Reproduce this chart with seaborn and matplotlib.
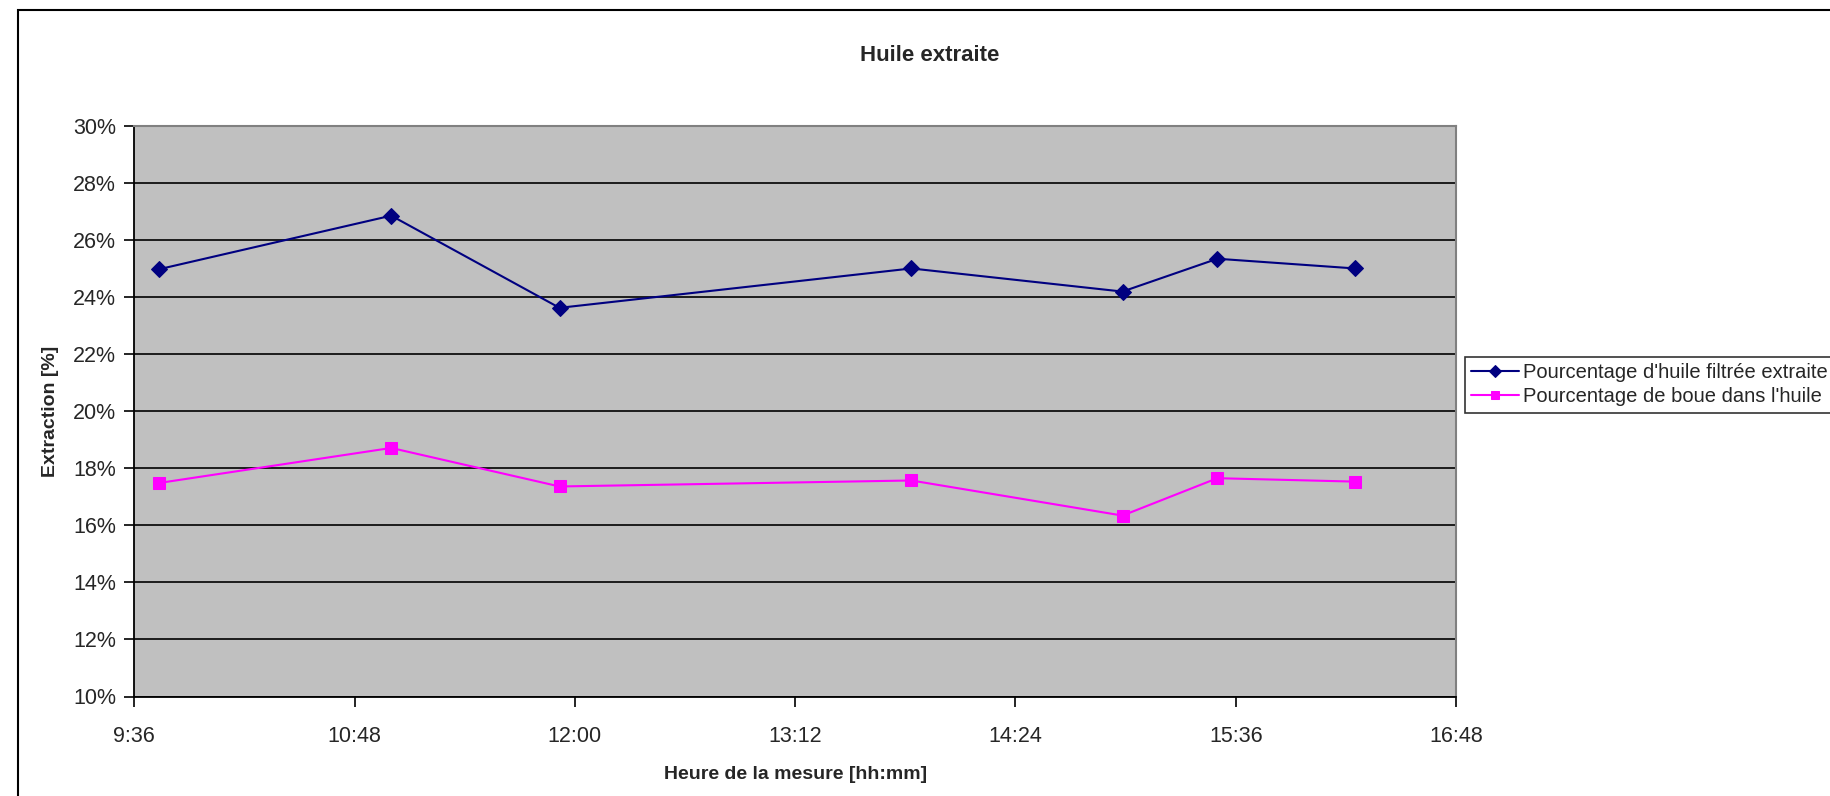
import pandas as pd
import numpy as np
import matplotlib.pyplot as plt
import matplotlib.ticker as mticker
from matplotlib.patches import Rectangle
import seaborn as sns

sns.set_theme(style="white")
plt.rcParams['font.family'] = ['Liberation Sans', 'DejaVu Sans']

# data
heures = ["9:44", "11:00", "11:55", "13:50", "14:59", "15:30", "16:15"]
huile_filtree = [24.97, 26.85, 23.62, 25.00, 24.19, 25.34, 25.00]
boue = [17.48, 18.71, 17.36, 17.57, 16.34, 17.65, 17.53]
ticks_min = [576, 648, 720, 792, 864, 936, 1008]


def to_min(s):
    h, m = s.split(':')
    return int(h) * 60 + int(m)


def fmt_hm(v, pos=None):
    v = int(round(v))
    return f"{v // 60}:{v % 60:02d}"


df = pd.DataFrame({
    'minutes': [to_min(h) for h in heures],
    'huile': huile_filtree,
    'boue': boue,
})

fig = plt.figure(figsize=(18.31, 7.96), dpi=100)
ax = fig.add_axes([0.0733, 0.125, 0.7219, 0.717])
ax.set_facecolor('#C0C0C0')

sns.lineplot(data=df, x='minutes', y='huile', ax=ax, color='#000080', marker='D',
             markersize=8, linewidth=1.5, markeredgecolor='#000080',
             label="Pourcentage d'huile filtrée extraite")
sns.lineplot(data=df, x='minutes', y='boue', ax=ax, color='#FF00FF', marker='s',
             markersize=8, linewidth=1.5, markeredgecolor='#FF00FF',
             label="Pourcentage de boue dans l'huile")

ax.set_xlim(576, 1008)
ax.set_ylim(10, 30)
ax.set_xticks(ticks_min)
ax.xaxis.set_major_formatter(mticker.FuncFormatter(fmt_hm))
ax.set_yticks(np.arange(10, 31, 2))
ax.yaxis.set_major_formatter(mticker.FuncFormatter(lambda v, p: f"{int(v)}%"))
ax.yaxis.grid(True, color='black', linewidth=1.2)
ax.set_axisbelow(True)
ax.tick_params(axis='both', labelsize=15.5, direction='out', length=7, width=1.2,
               color='black', left=True, bottom=True, pad=6)
ax.tick_params(axis='x', pad=14)
for side in ['left', 'bottom']:
    ax.spines[side].set_color('black')
    ax.spines[side].set_linewidth(1.3)
for side in ['top', 'right']:
    ax.spines[side].set_color('#808080')
    ax.spines[side].set_linewidth(1.5)

ax.set_xlabel('Heure de la mesure [hh:mm]', fontsize=14, fontweight='bold', labelpad=14)
ax.set_ylabel('Extraction [%]', fontsize=14, fontweight='bold', labelpad=10)
fig.text(0.508, 0.93, 'Huile extraite', ha='center', va='center', fontsize=16, fontweight='bold')

ax.get_legend().remove()
leg = fig.legend(loc='upper left', bbox_to_anchor=(0.8, 0.551), fontsize=14.5,
                 frameon=True, fancybox=False, edgecolor='black', borderpad=0.3,
                 handlelength=2.4, handletextpad=0.2, labelspacing=0.25, borderaxespad=0,
                 markerscale=0.75)
leg.get_frame().set_linewidth(1.2)

# outer chart border
fig.add_artist(Rectangle((0.0096, -0.1), 1.2, 1.088, transform=fig.transFigure,
                         fill=False, edgecolor='black', linewidth=1.5))

fig.savefig('out.png', dpi=100)
